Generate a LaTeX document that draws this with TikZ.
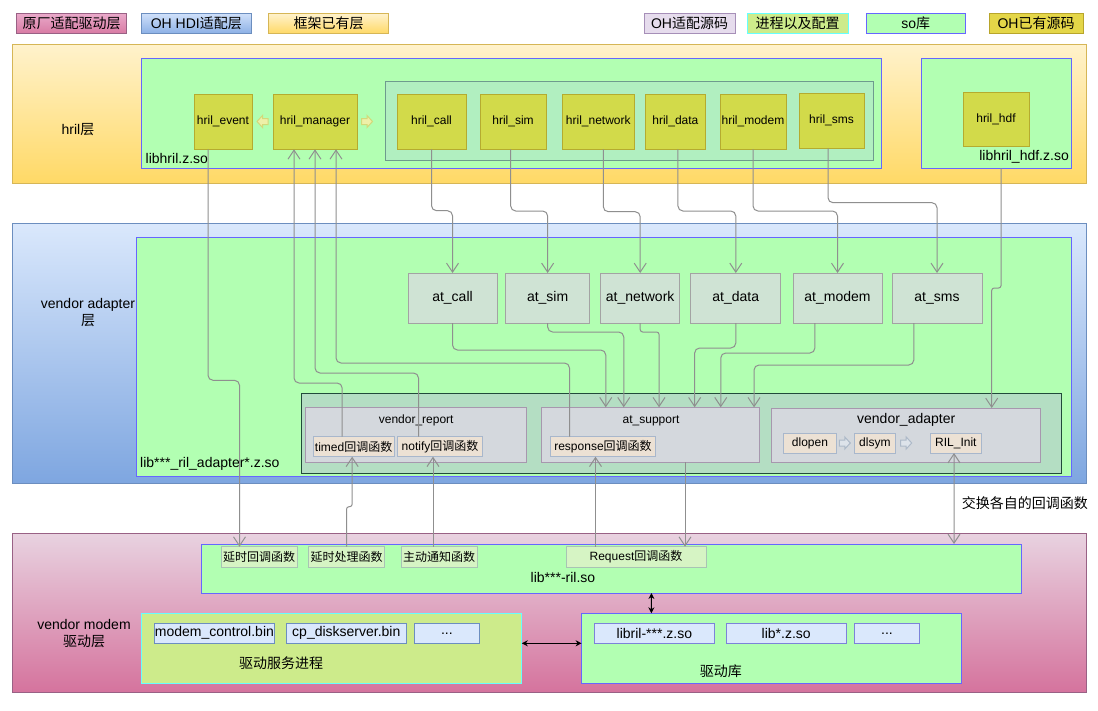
\documentclass[tikz,border=0pt]{standalone}
\usepackage{fontspec}
\setmainfont{Liberation Sans}
\newfontfamily\zhf{Noto Sans CJK SC}
\newcommand{\zh}[1]{{\zhf #1}}
\newcommand{\fa}{\fontsize{12}{14}\selectfont}
\newcommand{\fb}{\fontsize{14}{17}\selectfont}
\usetikzlibrary{arrows.meta}

\definecolor{cYt}{HTML}{FFF2CC}\definecolor{cYb}{HTML}{FFD966}\definecolor{cYd}{HTML}{D6B656}
\definecolor{cBt}{HTML}{DAE8FC}\definecolor{cBb}{HTML}{7EA6E0}\definecolor{cBd}{HTML}{6C8EBF}
\definecolor{cPt}{HTML}{E8D2E0}\definecolor{cPb}{HTML}{D5739D}\definecolor{cPd}{HTML}{996185}
\definecolor{cPlt}{HTML}{E9A9CA}\definecolor{cPlb}{HTML}{D87BA3}
\definecolor{cBlt}{HTML}{CFE0F9}\definecolor{cBlb}{HTML}{8CB0E6}
\definecolor{cSo}{HTML}{B2FFB2}\definecolor{cSoD}{HTML}{6666FF}
\definecolor{cGa}{HTML}{B1EFC0}\definecolor{cGaD}{HTML}{6E9B8E}
\definecolor{cGb}{HTML}{B4DEC3}\definecolor{cGbD}{HTML}{214A3A}
\definecolor{cH}{HTML}{D2DA4A}\definecolor{cHd}{HTML}{B5AB2F}
\definecolor{cOh}{HTML}{E4D648}\definecolor{cOhD}{HTML}{B8A52B}
\definecolor{cAt}{HTML}{CFE3D4}\definecolor{cAtD}{HTML}{A3A3A3}
\definecolor{cV}{HTML}{D4D8DD}\definecolor{cVd}{HTML}{A797AE}
\definecolor{cF}{HTML}{ECE1D4}\definecolor{cFd}{HTML}{A8B7CC}
\definecolor{cGf}{HTML}{D6F4C4}\definecolor{cGfD}{HTML}{A8C4B4}
\definecolor{cProc}{HTML}{CDEB8B}\definecolor{cProcD}{HTML}{66FFFF}
\definecolor{cBin}{HTML}{DAE8FC}\definecolor{cBinD}{HTML}{6C8EBF}\definecolor{cLibD}{HTML}{7C83D9}
\definecolor{cSrc}{HTML}{E6DCED}\definecolor{cSrcD}{HTML}{A68FB8}
\definecolor{cLine}{HTML}{8F8F8F}
\definecolor{cHaF}{HTML}{EEF0A8}\definecolor{cHaD}{HTML}{D2D97A}
\definecolor{cVaF}{HTML}{DDE3EA}\definecolor{cVaD}{HTML}{ADB9C8}

\newcommand{\bx}[7]{\node[#2, minimum width={#5-#3}, minimum height={#6-#4}] (#1) at ({(#3+#5)/2},{(#4+#6)/2}) {#7};}
% hollow block arrow drawn around a named anchor node; #3 = 1 (right) or -1 (left)
\newcommand{\harrow}[3]{\draw[#2, shift={(#1.center)}, xscale=#3] (-5.5,-3) -- (0,-3) -- (0,-6) -- (5.5,0) -- (0,6) -- (0,3) -- (-5.5,3) -- cycle;}

\tikzset{
  base/.style={inner sep=0pt, outer sep=0pt, line width=1pt, text=black, rectangle},
  layerY/.style={base, draw=cYd, top color=cYt, bottom color=cYb},
  layerB/.style={base, draw=cBd, top color=cBt, bottom color=cBb},
  layerP/.style={base, draw=cPd, top color=cPt, bottom color=cPb},
  soBox/.style={base, draw=cSoD, fill=cSo},
  grpA/.style={base, draw=cGaD, fill=cGa},
  grpB/.style={base, draw=cGbD, fill=cGb},
  hbox/.style={base, draw=cHd, fill=cH, font=\fa},
  atbox/.style={base, draw=cAtD, fill=cAt, font=\fb},
  vbox/.style={base, draw=cVd, fill=cV},
  fnbox/.style={base, draw=cFd, fill=cF, font=\fa},
  gfbox/.style={base, draw=cGfD, fill=cGf, font=\fa},
  procBox/.style={base, draw=cProcD, fill=cProc},
  binBox/.style={base, draw=cBinD, fill=cBin, font=\fb},
  libBox/.style={base, draw=cLibD, fill=cBin, font=\fb},
  lgd/.style={base, font=\fb},
  lbl/.style={inner sep=0pt, font=\fb, text=black},
  lbls/.style={inner sep=0pt, font=\fa, text=black},
  anchorpt/.style={inner sep=0pt, outer sep=0pt, minimum size=12pt},
  hollowY/.style={draw=cHaD, fill=cHaF, line width=1pt, line join=miter},
  hollowV/.style={draw=cVaD, fill=cVaF, line width=1pt, line join=miter},
  conn/.style={draw=cLine, line width=1pt, rounded corners=5pt, -{Straight Barb[length=9pt,width=12pt]}},
  connS/.style={conn, rounded corners=2.5pt},
  blk/.style={draw=black, line width=1pt, {Stealth[length=6pt,width=6pt]}-{Stealth[length=6pt,width=6pt]}}
}

\begin{document}
\begin{tikzpicture}[x=1pt,y=-1pt]
\useasboundingbox[fill=white] (0,0) rectangle (1098,710);

% legend
\bx{lg1}{lgd, draw=cPd, top color=cPlt, bottom color=cPlb}{16.5}{13.5}{126.7}{33.5}{\zh{原厂适配驱动层}}
\bx{lg2}{lgd, draw=cBd, top color=cBlt, bottom color=cBlb}{141}{13.5}{251.6}{33.5}{OH HDI\zh{适配层}}
\bx{lg3}{lgd, draw=cYd, top color=cYt, bottom color=cYb}{268.4}{13.5}{388.8}{33.5}{\zh{框架已有层}}
\bx{lg4}{lgd, draw=cSrcD, fill=cSrc}{644}{13.5}{735}{33.5}{OH\zh{适配源码}}
\bx{lg5}{lgd, draw=cProcD, fill=cProc}{747}{13.5}{848}{33.5}{\zh{进程以及配置}}
\bx{lg6}{lgd, draw=cSoD, fill=cSo}{866.5}{13.5}{965}{33.5}{so\zh{库}}
\bx{lg7}{lgd, draw=cOhD, fill=cOh}{989}{13.5}{1083}{33.5}{OH\zh{已有源码}}

% hril layer
\bx{Lhril}{layerY}{12}{44}{1086}{183.3}{}
\node[lbl] (LhrilLbl) at (78,130) {hril\zh{层}};
\bx{libhril}{soBox}{141}{58}{881}{168}{}
\node[lbl, anchor=west] (libhrilLbl) at (145.5,158) {libhril.z.so};
\bx{hgrp}{grpA}{385}{81}{873}{160}{}
\bx{hevent}{hbox}{194}{94.3}{252}{149.3}{hril\_event}
\bx{hman}{hbox}{273}{94.3}{357}{149.3}{hril\_manager}
\bx{hcall}{hbox}{397}{94.3}{466}{149.3}{hril\_call}
\bx{hsim}{hbox}{480}{94.3}{546}{149.3}{hril\_sim}
\bx{hnet}{hbox}{562.6}{94.3}{634}{149.3}{hril\_network}
\bx{hdata}{hbox}{645}{94.3}{705.7}{149.3}{hril\_data}
\bx{hmodem}{hbox}{720}{94.3}{786}{149.3}{hril\_modem}
\bx{hsms}{hbox}{799}{93.3}{864}{148.3}{hril\_sms}
\node[anchorpt] (ha1) at (262.5,121.5) {};
\node[anchorpt] (ha2) at (367,121.5) {};
\harrow{ha1}{hollowY}{-1}
\harrow{ha2}{hollowY}{1}
\bx{lhdf}{soBox}{921}{58}{1071.7}{168}{}
\bx{hhdf}{hbox}{963}{92}{1029}{146.7}{hril\_hdf}
\node[lbl, anchor=east] (lhdfLbl) at (1069,156.7) {libhril\_hdf.z.so};

% vendor adapter layer
\bx{Lva}{layerB}{12}{223}{1086}{483.5}{}
\node[lbl, align=center] (LvaLbl) at (88,313) {vendor adapter\\\zh{层}};
\bx{ladp}{soBox}{136.5}{237}{1071.7}{476}{}
\node[lbl, anchor=west] (ladpLbl) at (140,464) {lib***\_ril\_adapter*.z.so};
\bx{atcall}{atbox}{408}{273}{497}{323}{at\_call}
\bx{atsim}{atbox}{505.7}{273}{589.6}{323}{at\_sim}
\bx{atnet}{atbox}{600.7}{273}{679.7}{323}{at\_network}
\bx{atdata}{atbox}{690.8}{273}{780.8}{323}{at\_data}
\bx{atmodem}{atbox}{793}{273}{882}{323}{at\_modem}
\bx{atsms}{atbox}{892}{273}{982}{323}{at\_sms}
\bx{vgrp}{grpB}{301.7}{393.3}{1061}{473}{}
\bx{vrep}{vbox}{305.7}{407.3}{526.7}{462.3}{}
\node[lbls] (vrepT) at (416.2,420.7) {vendor\_report};
\bx{timed}{fnbox}{313.3}{436.7}{394}{456.7}{timed\zh{回调函数}}
\bx{notify}{fnbox}{397.3}{436.7}{482.7}{456.7}{notify\zh{回调函数}}
\bx{atsup}{vbox}{541}{407.3}{759.7}{462.3}{}
\node[lbls] (atsupT) at (651,420.7) {at\_support};
\bx{resp}{fnbox}{550.3}{436.7}{655.7}{456.7}{response\zh{回调函数}}
\bx{vad}{vbox}{771.7}{408}{1040.7}{462.7}{}
\node[lbl] (vadT) at (906.2,419.5) {vendor\_adapter};
\bx{dlopen}{fnbox}{783.7}{433}{836.3}{453}{dlopen}
\bx{dlsym}{fnbox}{854}{433}{895.7}{453}{dlsym}
\bx{rilinit}{fnbox}{930}{433}{981.7}{453}{RIL\_Init}
\node[anchorpt] (va1) at (844.8,443) {};
\node[anchorpt] (va2) at (906.2,443) {};
\harrow{va1}{hollowV}{1}
\harrow{va2}{hollowV}{1}

% vendor modem layer
\bx{Lvm}{layerP}{12}{533.5}{1086}{692.7}{}
\node[lbl, align=center] (LvmLbl) at (84,634) {vendor modem\\\zh{驱动层}};
\bx{lril}{soBox}{201.6}{544}{1021}{593}{}
\node[lbl] (lrilLbl) at (563,577.7) {lib***-ril.so};
\bx{yshd}{gfbox}{221}{546.7}{297}{567}{\zh{延时回调函数}}
\bx{yscl}{gfbox}{308.5}{546.7}{384.5}{567}{\zh{延时处理函数}}
\bx{zdtz}{gfbox}{401}{546.7}{477}{567}{\zh{主动通知函数}}
\bx{reqcb}{gfbox}{566}{546.7}{706}{567}{Request\zh{回调函数}}
\bx{qdfw}{procBox}{141.4}{613.3}{521.8}{683.3}{}
\node[lbl] (qdfwLbl) at (281,662.7) {\zh{驱动服务进程}};
\bx{mc}{binBox}{154.4}{623.3}{274.4}{643.3}{modem\_control.bin}
\bx{cpd}{binBox}{286.3}{623.3}{406.3}{643.3}{cp\_diskserver.bin}
\bx{bdots}{binBox}{414.4}{623.3}{479.3}{643.3}{...}
\bx{qdk}{soBox}{581.6}{613.3}{961.4}{683.3}{}
\node[lbl] (qdkLbl) at (720.8,671.7) {\zh{驱动库}};
\bx{libril}{libBox}{594.4}{623.3}{714.4}{643.3}{libril-***.z.so}
\bx{libx}{libBox}{726}{623.3}{846.4}{643.3}{lib*.z.so}
\bx{ldots}{libBox}{854.2}{623.3}{919.7}{643.3}{...}

% hril -> at
\draw[conn] (hcall.south) -- ++(0,61.4) -| (atcall.north);
\draw[conn] ([xshift=-2.3pt]hsim.south) -- ++(0,61.7) -| (atsim.north);
\draw[conn] ([xshift=5pt]hnet.south) -- ++(0,62.4) -| (atnet.north);
\draw[conn] ([xshift=2.6pt]hdata.south) -- ++(0,61.7) -| (atdata.north);
\draw[conn] (hmodem.south) -- ++(0,61.7) -| (atmodem.north);
\draw[conn] ([xshift=-3.5pt]hsms.south) -- ++(0,54.4) -| (atsms.north);
\draw[connS] ([xshift=4.7pt]lhdf.south) -- ++(0,120) -| ([xshift=85.5pt]vad.north);

% at -> at_support
\draw[conn] (atcall.south) -- ++(0,27) -| ([xshift=-44.6pt]atsup.north);
\draw[conn] (atsim.south) -- ++(0,9) -| ([xshift=-26.6pt]atsup.north);
\draw[connS] (atnet.south) -- ++(0,9) -| ([xshift=8.7pt]atsup.north);
\draw[conn] (atdata.south) -- ++(0,25) -| ([xshift=44.3pt]atsup.north);
\draw[conn] ([xshift=-22.6pt]atmodem.south) -- ++(0,30) -| ([xshift=70.4pt]atsup.north);
\draw[conn] ([xshift=-23.2pt]atsms.south) -- ++(0,42) -| ([xshift=103.7pt]atsup.north);

% callbacks -> hril_manager
\draw[conn] ([xshift=-11.5pt]timed.north) -- ++(0,-53.7) -| ([xshift=-21pt]hman.south);
\draw[conn] ([xshift=-21.5pt]notify.north) -- ++(0,-63.7) -| (hman.south);
\draw[conn] ([xshift=-33.5pt]resp.north) -- ++(0,-73.7) -| ([xshift=21pt]hman.south);
\draw[conn] ([xshift=-15pt]hevent.south) -- ++(0,231) -| ([xshift=-19.5pt]yshd.north);

% bottom <-> adapter
\coordinate (xn) at (433,0);
\coordinate (xr) at (595.5,0);
\coordinate (xq) at (685,0);
\draw[connS] (yscl.north) -- ++(0,-40) -| ([xshift=-1.5pt]timed.south);
\draw[conn] (xn |- zdtz.north) -- (xn |- notify.south);
\draw[conn] (xr |- reqcb.north) -- (xr |- resp.south);
\draw[conn] (xq |- atsup.south) -- (xq |- reqcb.north);
\draw[conn, {Straight Barb[length=9pt,width=12pt]}-{Straight Barb[length=9pt,width=12pt]}] ([xshift=-1.85pt]rilinit.south) -- ([xshift=342.7pt]lril.north);
\node[lbl, anchor=west] (xhLbl) at (961.7,503) {\zh{交换各自的回调函数}};

% black arrows
\draw[blk] ([yshift=5pt]qdfw.east) -- ([yshift=5pt]qdk.west);
\draw[blk] ([xshift=40.1pt]lril.south) -- ([xshift=-120.1pt]qdk.north);
\end{tikzpicture}
\end{document}
